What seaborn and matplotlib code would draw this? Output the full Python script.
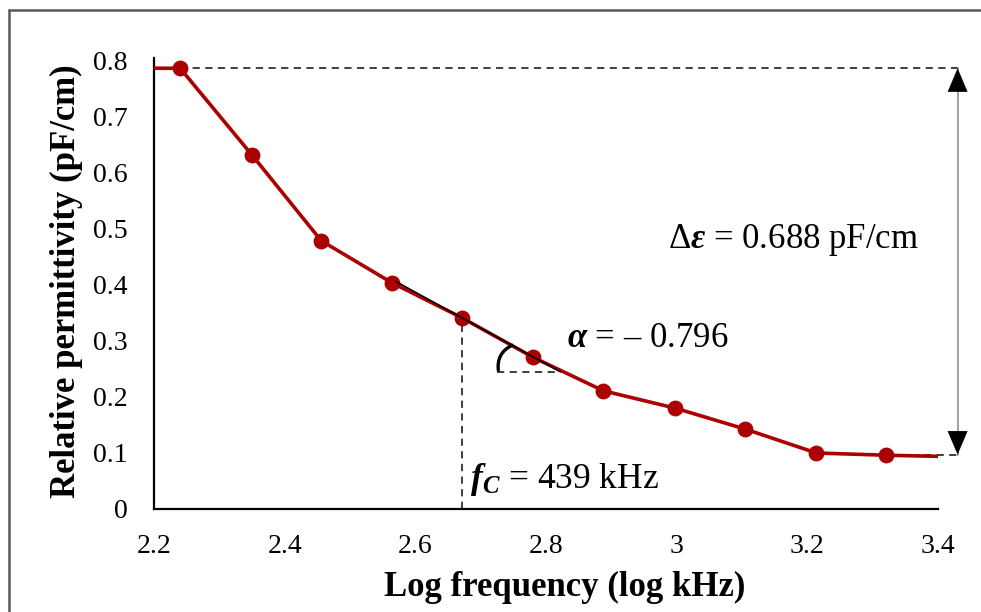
import numpy as np
import pandas as pd
import matplotlib
matplotlib.use("Agg")
import matplotlib.pyplot as plt
from matplotlib.lines import Line2D
import seaborn as sns

# ---- data ----
log_freq = [2.24, 2.35, 2.456, 2.564, 2.672, 2.78, 2.888, 2.998, 3.104, 3.214, 3.321]
permittivity = [0.787, 0.632, 0.479, 0.404, 0.341, 0.271, 0.211, 0.180, 0.143, 0.100, 0.096]
line_start = (2.2, 0.787)
line_end = (3.4, 0.094)
x_ticks = [2.2, 2.4, 2.6, 2.8, 3.0, 3.2, 3.4]
x_tick_labels = ["2.2", "2.4", "2.6", "2.8", "3", "3.2", "3.4"]
y_ticks = [0, 0.1, 0.2, 0.3, 0.4, 0.5, 0.6, 0.7, 0.8]
y_tick_labels = ["0", "0.1", "0.2", "0.3", "0.4", "0.5", "0.6", "0.7", "0.8"]
delta_top = 0.787
delta_bottom = 0.097
fc_x = 2.672
fc_y = 0.341
tangent_slope = -0.64
alpha_base_y = 0.245

sns.set_theme(style="white")
plt.rcParams['font.family'] = ['Liberation Serif', 'DejaVu Serif']
plt.rcParams['mathtext.fontset'] = 'custom'
plt.rcParams['mathtext.rm'] = 'Liberation Serif'
plt.rcParams['mathtext.it'] = 'Liberation Serif:italic'
plt.rcParams['mathtext.bf'] = 'Liberation Serif:bold'
plt.rcParams['mathtext.bfit'] = 'Liberation Serif:italic:bold'

fig = plt.figure(figsize=(9.81, 6.12), dpi=100)
ax = fig.add_axes([154/981, 1-509/612, 784/981, (509-57.6)/612])

red = "#AC0000"
trend_x = [line_start[0]] + log_freq + [line_end[0]]
trend_y = [line_start[1]] + permittivity + [line_end[1]]
df_line = pd.DataFrame({"x": trend_x, "y": trend_y})
df_pts = pd.DataFrame({"x": log_freq, "y": permittivity})
sns.lineplot(data=df_line, x="x", y="y", ax=ax, color=red, linewidth=2.6, sort=False, zorder=3)
sns.scatterplot(data=df_pts, x="x", y="y", ax=ax, color=red, s=130, edgecolor=red, linewidth=0, zorder=4)

ax.set_xlim(2.2, 3.4)
ax.set_ylim(0, 0.806)
ax.set_xticks(x_ticks)
ax.set_xticklabels(x_tick_labels)
ax.set_yticks(y_ticks)
ax.set_yticklabels(y_tick_labels)
ax.tick_params(axis='x', length=0, pad=18, labelsize=20, colors='black')
ax.tick_params(axis='y', length=0, pad=19, labelsize=20, colors='black')
for s in ['top', 'right']:
    ax.spines[s].set_visible(False)
for s in ['left', 'bottom']:
    ax.spines[s].set_color('black')
    ax.spines[s].set_linewidth(1.6)

ax.set_xlabel("Log frequency (log kHz)", fontsize=25, fontweight='bold', color='black', va='top')
ax.xaxis.set_label_coords(0.524, -0.137)
ax.set_ylabel("Relative permittivity (pF/cm)", fontsize=25, fontweight='bold', color='black', va='center')
ax.yaxis.set_label_coords(-0.112, 0.505)

dash_kw = dict(color='#303030', linewidth=1.3, linestyle=(0, (4, 3)), clip_on=False, zorder=2)
arrow_x = 3.43
# top / bottom dashed guides
ax.plot([log_freq[0], arrow_x], [delta_top, delta_top], **dash_kw)
ax.plot([log_freq[-1], arrow_x], [delta_bottom, delta_bottom], **dash_kw)
# double arrow
ax.plot([arrow_x, arrow_x], [delta_bottom, delta_top], color='#909090', linewidth=1.2, clip_on=False)
for y0, y1 in [(0.6, delta_top), (0.3, delta_bottom)]:
    ax.annotate('', xy=(arrow_x, y1), xytext=(arrow_x, y0),
                arrowprops=dict(arrowstyle='-|>,head_length=0.85,head_width=0.36',
                                color='black', lw=0, mutation_scale=20, shrinkA=0, shrinkB=0),
                annotation_clip=False)

# fc vertical dashed
ax.plot([fc_x, fc_x], [0, fc_y], **dash_kw)
# tangent
tx = np.array([2.57, fc_x + (fc_y - alpha_base_y) / -tangent_slope])
ax.plot(tx, fc_y + tangent_slope * (tx - fc_x), color='black', linewidth=1.2, zorder=5)
# horizontal dashed at angle base
ax.plot([2.725, tx[1]], [alpha_base_y, alpha_base_y], **dash_kw)
# angle arc
ax.annotate('', xy=(2.748, fc_y + tangent_slope * (2.748 - fc_x)), xytext=(2.727, alpha_base_y + 0.003),
            arrowprops=dict(arrowstyle='-', color='black', lw=2.4, connectionstyle='arc3,rad=-0.35',
                            shrinkA=0, shrinkB=0))

ax.text(2.987, 0.48, r"$\Delta\mathbfit{\varepsilon}$ = 0.688 pF/cm", fontsize=25, ha='left', va='center', color='black')
ax.text(2.832, 0.305, r"$\mathbfit{\alpha}$ = – 0.796", fontsize=25, ha='left', va='center', color='black')
ax.text(2.684, 0.053, r"$\mathbfit{f}_{\mathbfit{C}}$ = 439 kHz", fontsize=25.5, ha='left', va='center', color='black')

# outer border
fig.add_artist(Line2D([9/981, 9/981], [0, 1-9.5/612], color='#5a5a5a', linewidth=1.8, transform=fig.transFigure))
fig.add_artist(Line2D([9/981, 1], [1-9.5/612, 1-9.5/612], color='#5a5a5a', linewidth=1.8, transform=fig.transFigure))

fig.savefig("out.png", dpi=100, facecolor='white')
